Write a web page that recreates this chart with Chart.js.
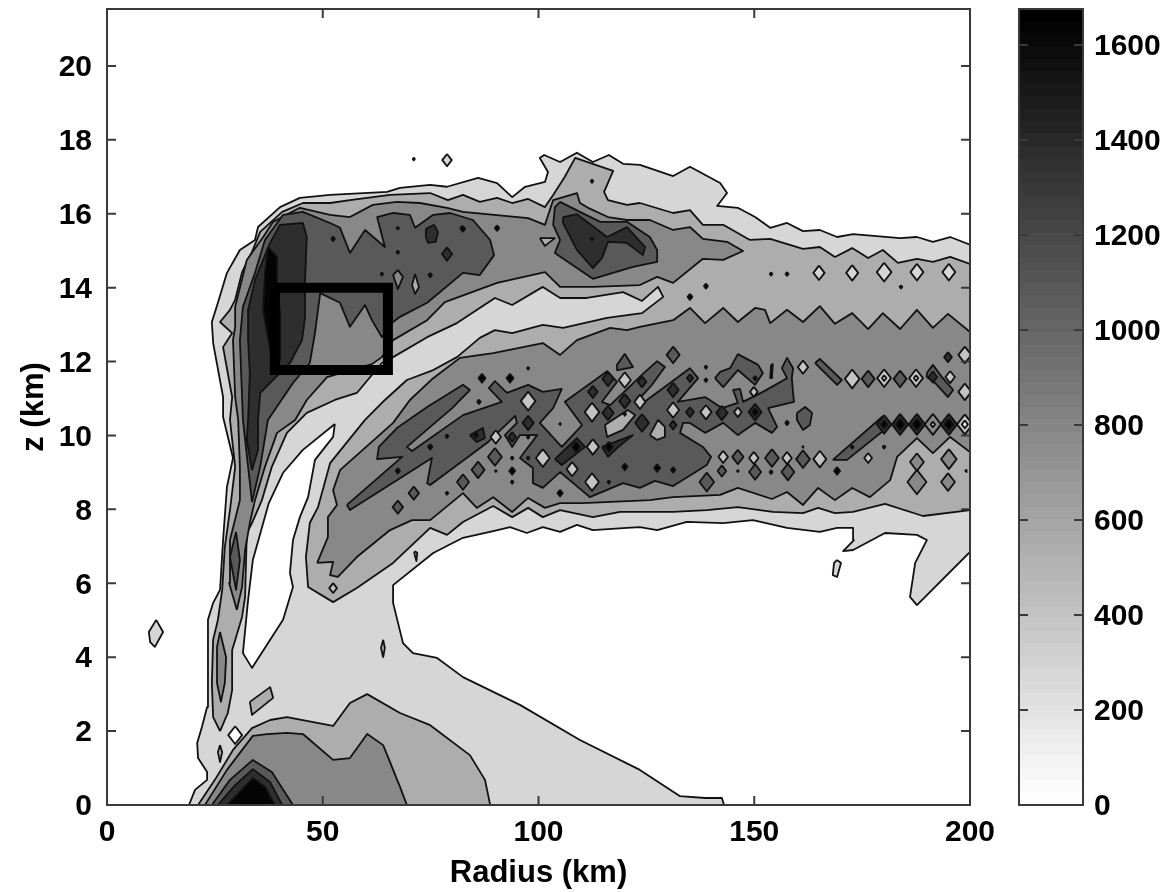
<!DOCTYPE html>
<html>
<head>
<meta charset="utf-8">
<style>
  html, body { margin: 0; padding: 0; background: #fff; }
  #wrap { position: relative; width: 1170px; height: 892px; overflow: hidden; }
  #contour { position: absolute; left: 0; top: 0; }
  #bar { position: absolute; left: 1010px; top: 0; }
</style>
<script src="https://cdn.jsdelivr.net/npm/chart.js@4"></script>
</head>
<body>
<div id="wrap">
  <canvas id="contour" width="1010" height="892" style="width:1010px;height:892px"></canvas>
  <canvas id="bar" width="160" height="892" style="width:160px;height:892px"></canvas>
</div>
<script>
// axis and tick values
const radiusTicks = [0, 50, 100, 150, 200];
const zTicks = [0, 2, 4, 6, 8, 10, 12, 14, 16, 18, 20];
const barTicks = [0, 200, 400, 600, 800, 1000, 1200, 1400, 1600];
const zTop = 21.54;
const barTop = [1676];

// contour outlines, [radius km, z km]
const level1Main = [[19.0,0],[20.4,.41],[23.2,.68],[23.2,.89],[21.1,1.27],[20.9,1.68],[22.0,2.11],[23.2,2.65],[23.4,3.73],[23.4,5.01],[24.6,5.47],[26.2,5.82],[26.9,7.17],[27.8,8.61],[29.2,9.39],[26.9,10.5],[26.9,11.04],[24.6,12.5],[24.3,13.07],[25.7,13.59],[27.8,14.4],[30.8,15.02],[34.3,15.29],[35.0,15.64],[40.1,16.18],[44.7,16.43],[51.7,16.51],[64.9,16.59],[67.9,16.7],[74.9,16.78],[78.8,16.73],[86.0,16.97],[90.4,16.83],[93.9,16.45],[96.9,16.73],[101.5,16.86],[102.2,17.13],[100.3,17.51],[101.3,17.59],[105.0,17.4],[108.9,17.65],[112.6,17.4],[116.3,17.59],[119.6,17.35],[123.5,17.32],[131.2,17.02],[135.1,17.27],[142.1,16.83],[143.7,16.56],[141.4,16.21],[146.2,16.16],[150.2,15.91],[153.7,15.62],[157.6,15.75],[161.3,15.53],[165.2,15.56],[169.2,15.37],[172.9,15.45],[183.8,15.34],[187.7,15.37],[191.4,15.24],[195.4,15.37],[200,15.16],[200,6.85],[187.7,5.41],[186.1,5.63],[187.3,6.55],[190.0,7.17],[187.7,7.31],[180.3,7.36],[172.9,6.9],[170.6,6.87],[173.1,7.17],[172.9,7.5],[169.2,7.5],[165.2,7.39],[157.6,7.5],[149.7,7.71],[142.8,7.63],[134.4,7.66],[127.5,7.44],[123.5,7.52],[120.5,7.5],[112.6,7.44],[108.9,7.58],[105.0,7.39],[101.0,7.52],[97.3,7.36],[93.4,7.52],[89.5,7.41],[82.5,7.23],[75.6,6.82],[66.3,5.95],[66.3,5.47],[68.6,4.38],[70.9,4.11],[76.5,3.98],[82.5,3.46],[95.7,2.71],[109.6,1.76],[123.5,.95],[132.8,.24],[138.6,.19],[142.5,.19],[143.0,0]];
const level1Isles = [
  [[11.4,5.01],[13.0,4.68],[11.1,4.28],[10.0,4.41],[9.7,4.68]],
  [[169.2,6.63],[170.1,6.55],[169.2,6.17],[168.2,6.22],[168.5,6.55]]
];
const whiteSlot = [[52.8,10.31],[45.4,9.61],[40.8,8.99],[37.5,8.17],[33.8,6.63],[32.7,5.55],[31.5,4.11],[33.6,3.71],[40.8,5.01],[43.1,5.9],[42.4,6.28],[43.1,7.17],[44.7,7.79],[46.6,8.33],[48.2,9.34],[52.4,9.96]];
const level2Main = [[26.2,2.0],[24.6,2.38],[24.3,3.3],[24.6,4.47],[25.7,5.01],[26.7,5.82],[27.3,6.98],[28.5,7.98],[29.7,9.15],[28.5,10.42],[29.0,11.04],[26.9,12.39],[29.0,12.77],[26.2,13.07],[28.5,13.4],[29.7,13.67],[31.3,14.42],[33.6,14.97],[35.5,15.51],[40.6,16.05],[45.4,16.29],[51.7,16.29],[56.3,16.37],[65.6,16.51],[74.9,16.56],[79.0,16.37],[82.5,16.51],[86.4,16.32],[90.4,16.43],[93.9,16.29],[97.6,16.4],[101.5,16.18],[103.4,16.51],[106.1,17.0],[108.5,17.51],[117.3,17.16],[115.2,16.59],[116.1,16.37],[120.5,16.24],[123.5,16.29],[131.2,16.02],[135.1,16.1],[138.1,15.7],[142.8,15.7],[149.0,15.29],[153.7,15.32],[161.3,15.05],[165.2,15.1],[168.7,14.83],[172.7,15.07],[176.4,14.8],[179.8,15.02],[183.3,14.67],[187.7,14.78],[191.4,14.7],[195.4,14.83],[200,14.64],[200,7.98],[189.1,7.82],[180.3,8.15],[172.9,7.93],[168.7,7.9],[164.8,8.04],[161.3,7.9],[154.3,7.93],[146.2,8.06],[139.0,7.98],[131.2,7.93],[125.8,7.93],[118.9,7.93],[112.6,7.79],[105.0,7.98],[101.0,7.79],[97.6,8.04],[93.9,7.79],[89.5,8.09],[82.5,7.66],[78.8,7.31],[74.9,7.5],[66.3,6.55],[57.9,5.87],[52.4,5.49],[46.6,5.9],[46.1,6.71],[47.0,7.63],[48.9,8.06],[51.7,9.25],[59.8,10.42],[64.4,10.96],[69.5,11.5],[75.6,11.77],[81.1,12.12],[86.4,12.64],[89.9,12.85],[93.9,12.77],[101.0,12.99],[105.7,12.91],[115.9,13.18],[124.0,13.31],[128.9,13.75],[127.7,14.02],[124.0,13.64],[119.6,13.88],[111.2,13.72],[105.0,13.72],[101.0,14.02],[93.9,13.53],[89.9,13.72],[81.1,13.04],[74.2,12.66],[66.3,12.12],[63.7,11.96],[57.9,11.15],[52.8,10.96],[46.3,10.61],[41.7,10.07],[38.2,9.15],[35.9,8.25],[33.6,7.63],[32.4,7.36],[32.0,5.63],[31.3,5.09],[29.0,4.19],[29.0,3.11],[28.0,2.49]];
const level2Base = [[21.1,0],[25.0,.68],[29.2,1.49],[33.6,2.08],[37.8,2.3],[41.7,2.38],[52.4,2.14],[56.3,2.76],[60.3,3.0],[67.9,2.49],[74.9,2.16],[84.1,1.35],[87.6,.68],[88.8,0]];
const level2Isles = [
  [[33.1,2.79],[37.8,3.19],[38.5,2.9],[33.6,2.44]],
  [[64.0,4.47],[64.4,4.25],[64.0,4.0],[63.5,4.25]],
  [[26.2,1.62],[26.7,1.43],[26.2,1.16],[25.7,1.43]],
  [[71.4,6.87],[71.9,6.82],[71.7,6.6],[71.2,6.82]]
];
const level3Upper = [[30.1,5.28],[28.3,6.01],[28.5,7.17],[30.8,8.25],[30.8,9.15],[30.4,10.42],[29.7,11.04],[29.2,12.58],[29.7,12.94],[29.7,13.48],[32.4,14.75],[36.2,15.37],[38.5,15.78],[44.7,16.16],[51.7,15.97],[56.3,15.91],[61.6,16.24],[67.2,16.32],[72.5,16.29],[78.8,16.16],[82.5,16.05],[97.6,15.88],[101.5,15.7],[103.4,16.37],[108.9,16.56],[109.6,16.29],[111.5,16.16],[116.1,15.91],[120.5,15.83],[125.8,15.83],[131.2,15.56],[135.1,15.64],[138.1,15.32],[143.7,15.24],[147.4,14.99],[142.8,14.75],[138.1,14.78],[131.2,14.13],[127.5,14.29],[123.5,14.07],[112.6,14.02],[105.0,14.02],[101.5,14.42],[90.4,14.13],[78.3,13.61],[74.2,13.12],[66.3,12.58],[63.7,12.12],[61.4,11.93],[51.0,11.58],[46.3,10.96],[43.6,10.42],[39.4,10.07],[36.6,9.15],[34.3,8.25],[33.1,7.63],[32.0,6.9],[31.3,5.9]];
const level3Lower = [[48.7,6.55],[51.2,7.25],[51.2,7.79],[53.3,8.12],[52.4,8.52],[54.0,9.06],[66.3,10.34],[70.2,10.96],[75.6,11.55],[81.8,12.1],[89.5,12.23],[101.0,12.5],[105.0,12.18],[108.9,12.58],[116.6,12.91],[120.5,12.85],[123.5,12.94],[131.2,13.12],[135.1,13.45],[138.6,13.04],[142.8,13.45],[146.2,13.07],[150.2,13.45],[152.5,13.4],[153.7,13.04],[157.6,13.4],[161.3,13.07],[165.2,13.5],[168.7,13.02],[172.7,13.31],[176.4,12.88],[179.8,13.31],[183.8,12.88],[187.7,13.4],[191.4,12.91],[194.9,13.29],[200,12.8],[200,9.55],[195.4,9.96],[191.4,9.52],[187.7,9.93],[183.1,9.42],[181.5,8.79],[176.8,8.33],[172.7,8.58],[168.7,8.25],[164.8,8.58],[161.3,8.12],[157.6,8.47],[154.1,8.28],[146.2,8.58],[142.1,8.39],[131.2,8.33],[125.8,8.25],[110.3,8.17],[105.0,8.17],[101.5,8.04],[97.6,8.31],[93.9,7.93],[89.5,8.33],[85.7,8.04],[82.5,8.44],[74.9,7.71],[70.7,7.71],[65.6,7.44],[57.9,6.71],[53.5,6.17],[51.7,6.22],[52.4,6.58]];
const level3Lobe = [[26.2,4.68],[25.5,4.28],[25.5,3.3],[26.4,2.79],[27.3,3.3],[27.6,4.0]];
const level3Base = [[22.7,0],[27.8,.95],[33.8,1.87],[37.1,1.92],[41.7,1.95],[45.4,1.92],[52.4,1.22],[56.3,1.27],[60.3,1.92],[64.0,1.62],[67.9,.49],[69.5,0]];
const level4Upper = [[33.6,8.2],[32.7,9.15],[31.5,10.42],[30.8,12.58],[31.5,13.48],[34.3,14.4],[36.6,15.29],[40.8,15.97],[45.4,16.05],[51.7,15.75],[54.0,15.62],[56.3,14.94],[59.8,15.56],[64.4,15.1],[62.6,15.91],[66.3,16.02],[70.2,15.97],[71.4,15.62],[75.6,15.97],[79.5,16.02],[84.8,15.83],[88.8,15.29],[89.7,14.88],[86.4,14.34],[82.5,14.4],[74.2,13.59],[67.9,13.21],[66.3,13.07],[63.7,12.66],[61.4,13.12],[59.8,13.53],[56.3,12.94],[54.0,13.59],[49.4,13.85],[48.2,12.77],[47.0,11.96],[43.1,11.42],[37.3,10.42],[35.5,9.15]];
const level4Lower = [[55.6,8.12],[68.4,9.42],[62.6,9.36],[63.0,9.69],[67.2,10.2],[74.2,10.77],[82.5,11.37],[84.1,11.23],[80.0,10.74],[69.5,9.69],[70.7,9.58],[82.5,10.55],[91.5,10.91],[88.5,11.28],[89.9,11.47],[92.7,11.15],[97.6,11.37],[101.0,11.18],[105.4,11.26],[103.4,10.74],[100.3,10.34],[105.4,9.69],[110.1,10.28],[106.1,10.91],[115.9,11.74],[118.2,11.45],[114.7,10.91],[116.6,10.82],[124.7,11.72],[127.5,12.01],[129.3,11.85],[126.3,11.37],[123.5,11.01],[124.2,10.88],[135.1,11.82],[137.0,11.55],[132.3,10.91],[138.6,11.04],[142.5,10.74],[146.2,10.88],[145.1,11.23],[146.7,11.26],[147.4,10.91],[152.0,11.18],[157.6,11.55],[156.4,11.82],[157.6,12.1],[159.0,11.82],[158.7,11.55],[159.2,10.91],[153.2,10.74],[155.3,10.23],[154.1,10.07],[150.2,10.34],[146.2,10.01],[142.8,10.34],[138.6,10.07],[135.1,10.34],[133.5,10.34],[132.8,10.07],[138.1,9.69],[140.0,9.42],[139.0,9.2],[131.2,8.63],[127.0,8.77],[123.5,8.58],[119.6,8.71],[111.9,8.33],[105.0,9.01],[101.0,8.58],[98.7,8.71],[98.7,9.12],[95.7,9.39],[99.7,10.01],[95.7,10.01],[93.9,9.69],[92.2,10.01],[95.0,10.34],[94.6,10.53],[88.1,9.8],[74.9,8.66],[74.2,8.71],[75.3,9.39],[56.3,7.98]];
const level4Blob = [[105.0,16.32],[109.6,16.05],[114.3,15.78],[120.5,15.78],[125.8,15.37],[127.5,15.02],[127.5,14.7],[121.9,14.56],[112.6,14.24],[108.9,14.53],[103.8,14.94],[105.0,15.29],[103.4,15.7],[103.8,16.18]];
const level4Lobe = [[29.9,7.39],[28.5,6.71],[29.9,5.82],[30.8,6.63]];
const level4Base = [[24.3,0],[28.5,.68],[33.8,1.22],[38.2,.89],[43.1,0]];
const level4Patches = [
  [[120.0,12.21],[121.9,11.85],[118.4,11.77],[118.2,11.91]],
  [[164.1,11.96],[165.2,12.07],[170.3,11.5],[169.2,11.37]],
  [[140.9,11.55],[142.1,11.72],[144.4,11.82],[146.2,12.2],[150.9,11.91],[152.0,11.69],[150.2,11.37],[146.2,11.77],[142.8,11.31]],
  [[153.9,11.91],[154.3,11.93],[154.1,11.55],[153.7,11.55]],
  [[159.9,10.61],[161.8,10.77],[163.4,10.61],[162.9,10.28],[161.3,10.15],[159.9,10.42]],
  [[168.2,9.34],[179.6,10.5],[181.0,10.23],[171.5,9.34]],
  [[190.0,11.69],[191.4,11.91],[193.5,11.58],[196.1,11.23],[194.9,11.04],[191.9,11.42],[190.0,11.58]]
];
const level2Holes = [
  [[115.4,10.28],[120.7,10.69],[122.4,10.55],[119.6,10.15],[115.9,9.96]],
  [[125.8,10.01],[127.7,10.42],[129.3,10.23],[129.3,9.96],[127.5,9.88]],
  [[71.4,14.37],[72.3,14.02],[71.4,13.83],[70.7,14.07]],
  [[100.3,15.34],[103.8,15.34],[101.5,15.13]]
];
const level3Holes = [
  [[67.4,14.48],[68.6,14.29],[67.4,13.96],[66.3,14.34]]
];
const level5Upper = [[33.6,9.06],[32.4,9.88],[32.7,10.42],[33.1,11.69],[32.7,12.58],[32.7,13.4],[34.3,14.21],[37.8,15.21],[40.1,15.7],[45.4,15.75],[46.3,15.37],[45.9,14.21],[45.9,13.21],[45.2,12.58],[42.4,11.96],[37.8,11.42],[35.5,11.15],[35.0,10.42],[35.0,9.61]];
const level5Blob = [[105.7,15.91],[108.9,15.99],[115.9,15.37],[120.5,15.64],[124.7,15.1],[124.2,14.88],[120.5,15.21],[116.1,15.24],[114.7,14.8],[112.6,14.53],[108.9,15.02],[105.7,15.75]];
const level5Base = [[25.7,0],[29.7,.54],[33.8,.97],[37.8,.62],[40.6,0]];
const level5Patches = [
  [[73.9,15.59],[75.8,15.7],[76.7,15.51],[76.2,15.24],[74.4,15.21],[73.9,15.37]],
  [[84.1,10.01],[87.1,10.2],[87.6,9.93],[85.7,9.82]],
  [[103.8,9.36],[108.9,9.93],[110.8,9.69],[105.4,9.2]],
  [[114.7,9.69],[121.9,10.01],[118.2,9.66],[116.1,9.42]]
];
const level6Upper = [[37.3,15.1],[39.4,14.83],[39.4,14.13],[40.1,13.31],[40.1,12.04],[37.8,12.31],[36.2,13.4],[36.6,14.4]];
const level6Base = [[27.8,0],[33.8,.73],[36.6,.49],[38.9,0]];

// small closed contours, [radius km, z km, half width km]
const level1Spots = [[78.8,17.45,1.1],[165.0,14.4,1.3],[172.7,14.4,1.4],[180.1,14.42,1.7],[187.7,14.42,1.5],[195.1,14.42,1.5]];
const whiteSpots = [[29.7,1.89,1.6],[180.1,11.55,.5],[187.5,11.55,.5],[191.4,10.3,.5],[198.8,10.3,.7]];
const level2Spots = [[52.4,5.87,.9],[97.6,10.93,1.7],[90.1,9.96,1.2],[101.0,9.39,1.6],[112.4,10.63,1.7],[112.6,9.69,1.4],[112.4,8.74,1.6],[120.0,11.5,1.4],[123.5,10.91,1.3],[107.8,9.09,1.3],[142.8,9.42,1.1],[149.9,9.39,1.1],[157.6,9.39,1.1],[165.2,9.36,1.5],[176.4,9.39,.9],[161.3,11.85,1.2],[172.7,11.53,1.7],[180.1,11.55,1.6],[187.5,11.55,1.6],[195.4,11.58,1.1],[198.8,11.18,1.5],[198.8,12.18,1.5],[149.9,11.18,.9],[138.8,10.63,1.3],[146.2,10.63,.9],[131.2,10.69,1.4],[198.8,10.3,1.8]];
const level3Spots = [[187.7,9.28,1.6],[195.1,9.36,1.8],[187.7,8.74,2.2],[194.9,8.74,1.6],[191.4,10.3,1.9]];
const level4Spots = [[89.9,9.42,1.6],[86.0,9.07,1.5],[82.5,8.74,1.4],[71.1,8.44,1.2],[67.4,8.06,1.2],[176.4,11.53,1.5],[183.8,11.53,1.5],[154.1,9.39,1.6],[161.3,9.36,1.6],[150.2,9.01,1.4],[157.8,9.01,1.5],[142.5,9.04,1.0],[139.0,8.74,1.7],[131.2,12.18,1.5],[146.2,9.42,1.3]];
const level5Spots = [[116.1,11.53,1.3],[112.6,11.18,1.1],[116.1,10.61,1.3],[120.0,10.93,1.3],[124.0,11.45,1.0],[124.0,10.34,1.6],[97.6,10.34,1.3],[93.9,9.96,.9],[131.2,11.23,1.3],[135.1,11.55,.7],[142.5,10.61,1.3],[150.2,10.63,1.5],[135.1,10.63,.9],[131.2,10.28,.8],[194.9,12.12,.9],[191.4,11.58,1.0],[78.8,14.91,1.2],[183.8,10.3,1.9],[187.7,10.3,1.9],[195.1,10.3,1.9],[180.1,10.3,1.7]];
const blackSpots = [[108.7,9.69,.9],[116.3,9.69,.9],[85.5,10.01,.5],[150.2,10.63,.7],[183.8,10.3,1.0],[187.7,10.3,1.0],[195.1,10.3,1.0],[180.1,10.3,.7],[71.1,17.48,.25],[112.4,15.32,.3],[82.3,15.61,.4],[90.4,15.61,.5],[112.4,16.88,.3],[52.4,15.32,.4],[67.4,15.61,.25],[67.4,14.96,.3],[74.9,14.34,.4],[82.5,15.59,.5],[63.7,14.37,.3],[153.9,14.37,.3],[157.6,14.37,.35],[138.8,14.04,.45],[135.1,13.75,.55],[184.0,14.02,.3],[97.6,11.82,.25],[86.9,11.55,.8],[93.4,11.55,.8],[86.2,10.91,.4],[78.8,9.98,.35],[74.9,9.69,.5],[67.4,9.04,.5],[93.9,9.39,.3],[93.9,9.04,.7],[90.1,9.04,.2],[93.9,8.74,.3],[78.8,8.44,.3],[97.6,9.39,.3],[97.6,9.96,.3],[105.0,10.31,.2],[105.0,8.44,.6],[116.3,8.74,.3],[120.0,10.58,.3],[127.5,9.12,.7],[131.2,9.07,.5],[120.0,9.15,.6],[138.8,11.85,.3],[138.8,11.5,.35],[146.2,9.04,.2],[153.9,9.01,.35],[169.2,9.04,.7],[180.1,9.69,.3],[172.7,9.69,.3],[157.6,10.34,.4],[161.3,9.69,.15],[150.2,11.55,.4],[199.1,9.04,.2]];

const boxCorners = [[38.9,14.0],[65.1,14.0],[65.1,11.77],[38.9,11.77],[38.9,14.0]];

// band colours, lightest first
const bandGrey = ['#d6d6d6', '#adadad', '#888888', '#595959', '#2e2e2e', '#040404'];

function closed(pts) {
  return pts.concat([pts[0]]);
}

function diamond(s) {
  // 4.315 px per km across, 36.95 px per km up
  const h = s[2] * 0.15;
  return [[s[0], s[1] + h], [s[0] + s[2], s[1]], [s[0], s[1] - h], [s[0] - s[2], s[1]]];
}

// paint order: first in this list is painted first
var layers = [];
function addShapes(list, colour) {
  list.forEach(function(pts) { layers.push({ pts: pts, colour: colour }); });
}

addShapes([level1Main].concat(level1Isles), bandGrey[0]);
addShapes([whiteSlot], '#ffffff');
addShapes(level1Spots.slice(0, 1).map(diamond), bandGrey[0]);
addShapes([level2Main, level2Base].concat(level2Isles), bandGrey[1]);
addShapes(level1Spots.slice(1).map(diamond), bandGrey[0]);
addShapes(whiteSpots.slice(0, 1).map(diamond), '#ffffff');
addShapes([level3Upper, level3Lower, level3Lobe, level3Base], bandGrey[2]);
addShapes(level3Spots.map(diamond), bandGrey[2]);
addShapes([level4Upper, level4Lower, level4Blob, level4Lobe, level4Base].concat(level4Patches), bandGrey[3]);
addShapes(level4Spots.map(diamond), bandGrey[3]);
addShapes(level2Holes, bandGrey[1]);
addShapes(level3Holes, bandGrey[2]);
addShapes(level2Spots.map(diamond), '#c4c4c4');
addShapes([level5Upper, level5Blob, level5Base].concat(level5Patches), bandGrey[4]);
addShapes(level5Spots.map(diamond), bandGrey[4]);
addShapes([level6Upper, level6Base], bandGrey[5]);
addShapes(blackSpots.map(diamond), '#000000');
addShapes(whiteSpots.slice(1).map(diamond), '#ffffff');

var datasets = layers.map(function(l, i) {
  return {
    data: closed(l.pts),
    showLine: true,
    fill: 'shape',
    backgroundColor: l.colour,
    borderColor: '#111',
    borderWidth: 1.8,
    borderJoinStyle: 'round',
    pointRadius: 0,
    tension: 0,
    order: layers.length - i + 1
  };
});

datasets.push({
  data: boxCorners,
  showLine: true,
  fill: false,
  borderColor: '#000',
  borderWidth: 10,
  borderJoinStyle: 'miter',
  pointRadius: 0,
  tension: 0,
  order: 0
});

const tickFont = { family: '"Liberation Sans", Arial, sans-serif', size: 30, weight: 'bold' };
const titleFont = { family: '"Liberation Sans", Arial, sans-serif', size: 31, weight: 'bold' };

// the plot box is fixed, tick labels may hang over its ends
function noScalePadding(s) {
  s.paddingTop = 0; s.paddingBottom = 0; s.paddingLeft = 0; s.paddingRight = 0;
}

// matlab style box: frame plus inward ticks on both sides
const boxTicks = {
  id: 'boxTicks',
  afterDatasetsDraw(chart) {
    const { ctx, chartArea: a, scales } = chart;
    const len = 9;
    ctx.save();
    ctx.strokeStyle = '#3a3a3a';
    ctx.lineWidth = 2;
    ctx.strokeRect(a.left, a.top, a.right - a.left, a.bottom - a.top);
    ctx.beginPath();
    if (scales.x.type === 'linear') {
      radiusTicks.forEach(function(v) {
        const px = scales.x.getPixelForValue(v);
        ctx.moveTo(px, a.bottom); ctx.lineTo(px, a.bottom - len);
        ctx.moveTo(px, a.top); ctx.lineTo(px, a.top + len);
      });
    }
    scales.y.ticks.forEach(function(t) {
      const py = scales.y.getPixelForValue(t.value);
      ctx.moveTo(a.left, py); ctx.lineTo(a.left + len, py);
      ctx.moveTo(a.right, py); ctx.lineTo(a.right - len, py);
    });
    ctx.stroke();
    ctx.restore();
  }
};

new Chart(document.getElementById('contour'), {
  type: 'scatter',
  data: { datasets: datasets },
  plugins: [boxTicks],
  options: {
    responsive: false,
    animation: false,
    layout: { padding: { top: 9, right: 40, left: 0, bottom: 0 } },
    plugins: { legend: { display: false }, tooltip: { enabled: false } },
    scales: {
      x: {
        type: 'linear', min: 0, max: 200,
        afterFit(s) { s.height = 87; noScalePadding(s); },
        afterBuildTicks(s) { s.ticks = radiusTicks.map(function(v) { return { value: v }; }); },
        grid: { display: false, drawTicks: false, tickLength: 0 },
        border: { display: false },
        ticks: { color: '#000', font: tickFont, padding: 10, maxRotation: 0, autoSkip: false },
        title: { display: true, text: 'Radius (km)', color: '#000', font: titleFont, padding: { top: 0, bottom: 0 } }
      },
      y: {
        type: 'linear', min: 0, max: zTop,
        afterFit(s) { s.width = 107; noScalePadding(s); },
        afterBuildTicks(s) { s.ticks = zTicks.map(function(v) { return { value: v }; }); },
        grid: { display: false, drawTicks: false, tickLength: 0 },
        border: { display: false },
        ticks: { color: '#000', font: tickFont, padding: 15, labelOffset: 2, autoSkip: false },
        title: { display: true, text: 'z (km)', color: '#000', font: titleFont, padding: { top: 16, bottom: 0 } }
      }
    }
  }
});

// colour bar: one tall bar with a stepped grey ramp
const barChart = new Chart(document.getElementById('bar'), {
  type: 'bar',
  data: {
    labels: [''],
    datasets: [{
      data: barTop,
      barPercentage: 1,
      categoryPercentage: 1,
      backgroundColor: function(c) {
        const a = c.chart.chartArea;
        if (!a) return '#888';
        const g = c.chart.ctx.createLinearGradient(0, a.bottom, 0, a.top);
        const steps = 64;
        for (let i = 0; i < steps; i++) {
          const v = Math.round(255 * (1 - i / (steps - 1)));
          const col = 'rgb(' + v + ',' + v + ',' + v + ')';
          g.addColorStop(i / steps, col);
          g.addColorStop((i + 1) / steps, col);
        }
        return g;
      }
    }]
  },
  plugins: [boxTicks],
  options: {
    responsive: false,
    animation: false,
    layout: { padding: { top: 9, left: 9, right: 0, bottom: 87 } },
    plugins: { legend: { display: false }, tooltip: { enabled: false } },
    scales: {
      x: { display: false },
      y: {
        position: 'right',
        min: 0, max: barTop[0],
        afterFit(s) { s.width = 87; noScalePadding(s); },
        afterBuildTicks(s) { s.ticks = barTicks.map(function(v) { return { value: v }; }); },
        grid: { display: false, drawTicks: false, tickLength: 0 },
        border: { display: false },
        ticks: { color: '#000', font: tickFont, padding: 11, labelOffset: 2, autoSkip: false, callback: function(v) { return String(v); } }
      }
    }
  }
});
</script>
</body>
</html>
